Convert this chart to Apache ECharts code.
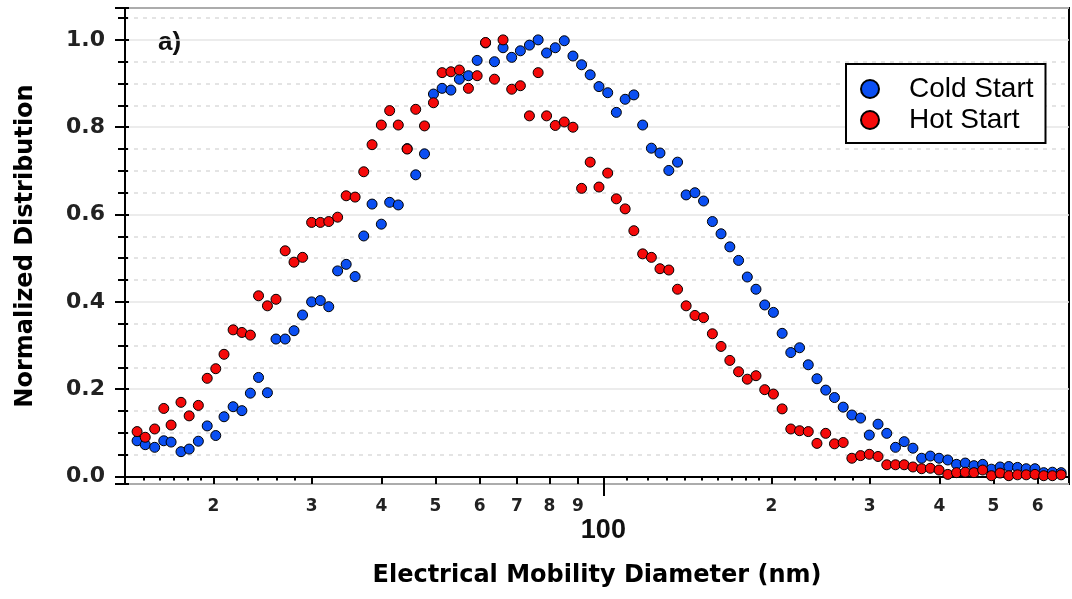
<!DOCTYPE html>
<html>
<head>
<meta charset="utf-8">
<script src="https://cdn.jsdelivr.net/npm/echarts@6/dist/echarts.min.js"></script>
<style>
	html, body { margin: 0; padding: 0; background: #fff; }
	#chart { width: 1072px; height: 599px; }
</style>
</head>
<body>
<div id="chart"></div>
<script>
// SMPS bin mid-points (nm)
const diameters = [
	14.6, 15.1, 15.7, 16.3, 16.8, 17.5, 18.1, 18.8, 19.5, 20.2,
	20.9, 21.7, 22.5, 23.3, 24.1, 25.0, 25.9, 26.9, 27.9, 28.9,
	30.0, 31.1, 32.2, 33.4, 34.6, 35.9, 37.2, 38.5, 40.0, 41.4,
	42.9, 44.5, 46.1, 47.8, 49.6, 51.4, 53.3, 55.2, 57.3, 59.4,
	61.5, 63.8, 66.1, 68.5, 71.0, 73.7, 76.4, 79.1, 82.0, 85.1,
	88.2, 91.4, 94.7, 98.2, 101.8, 105.5, 109.4, 113.4, 117.6, 121.9,
	126.3, 131.0, 135.8, 140.7, 145.9, 151.2, 156.8, 162.5, 168.5, 174.7,
	181.1, 187.7, 194.6, 201.7, 209.1, 216.7, 224.7, 232.9, 241.4, 250.3,
	259.5, 269.0, 278.8, 289.0, 299.6, 310.6, 322.0, 333.8, 346.0, 358.7,
	371.8, 385.4, 399.5, 414.2, 429.4, 445.1, 461.4, 478.3, 495.8, 514.0,
	532.8, 552.3, 572.5, 593.5, 615.3, 637.8, 661.2
];
const coldStart = [
	0.082, 0.073, 0.067, 0.082, 0.079, 0.057, 0.063, 0.081, 0.116, 0.094,
	0.137, 0.160, 0.151, 0.191, 0.227, 0.192, 0.315, 0.315, 0.334, 0.370,
	0.400, 0.403, 0.389, 0.471, 0.486, 0.458, 0.551, 0.624, 0.578, 0.628,
	0.622, 0.751, 0.691, 0.739, 0.876, 0.889, 0.885, 0.910, 0.918, 0.953,
	0.993, 0.950, 0.982, 0.960, 0.975, 0.988, 1.000, 0.970, 0.982, 0.998,
	0.963, 0.943, 0.920, 0.893, 0.879, 0.834, 0.864, 0.874, 0.805, 0.752,
	0.741, 0.701, 0.720, 0.645, 0.650, 0.631, 0.584, 0.556, 0.526, 0.495,
	0.457, 0.429, 0.393, 0.376, 0.328, 0.284, 0.295, 0.256, 0.224, 0.198,
	0.181, 0.159, 0.141, 0.134, 0.095, 0.120, 0.099, 0.067, 0.080, 0.065,
	0.042, 0.047, 0.042, 0.038, 0.028, 0.031, 0.025, 0.028, 0.017, 0.022,
	0.023, 0.021, 0.018, 0.018, 0.009, 0.010, 0.009
];
const hotStart = [
	0.103, 0.090, 0.109, 0.156, 0.118, 0.170, 0.139, 0.163, 0.225, 0.247,
	0.280, 0.336, 0.330, 0.324, 0.414, 0.391, 0.406, 0.517, 0.491, 0.502,
	0.582, 0.582, 0.584, 0.594, 0.643, 0.640, 0.698, 0.760, 0.805, 0.838,
	0.805, 0.750, 0.841, 0.803, 0.856, 0.925, 0.927, 0.931, 0.889, 0.918,
	0.994, 0.910, 1.000, 0.887, 0.895, 0.826, 0.925, 0.826, 0.804, 0.812,
	0.800, 0.660, 0.720, 0.663, 0.695, 0.636, 0.613, 0.563, 0.510, 0.502,
	0.476, 0.473, 0.429, 0.391, 0.369, 0.364, 0.327, 0.298, 0.266, 0.240,
	0.223, 0.231, 0.199, 0.189, 0.155, 0.109, 0.105, 0.103, 0.076, 0.099,
	0.075, 0.078, 0.042, 0.048, 0.051, 0.046, 0.027, 0.027, 0.027, 0.022,
	0.018, 0.019, 0.015, 0.005, 0.009, 0.010, 0.009, 0.015, 0.002, 0.008,
	0.002, 0.004, 0.004, 0.005, 0.002, 0.002, 0.004
];
// x tick positions (nm)
const labeledTicks = [20, 30, 40, 50, 60, 70, 80, 90, 100, 200, 300, 400, 500, 600];
const minorTicks = [15, 16, 17, 18, 19, 22, 24, 26, 28, 110, 120, 130, 140, 150, 160, 170, 180, 190, 220, 240, 260, 280];
const decadeTicks = [100];

const xMin = Math.log10(13.89);
const xMax = Math.log10(683);
const log = (arr) => arr.map((v) => Math.log10(v));

const boldFont = 'DejaVu Sans';

// one log-x axis drawn as log10 values; extra axes only carry tick marks
const tickAxis = (values, length, inside) => ({
	type: 'value',
	position: 'bottom',
	min: xMin,
	max: xMax,
	axisLine: { show: false },
	axisLabel: { show: false },
	splitLine: { show: false },
	axisTick: {
		show: true,
		inside: inside,
		length: length,
		customValues: log(values),
		lineStyle: { color: '#000', width: 2 },
	},
});

const myChart = echarts.init(document.getElementById('chart'));
const option = {
	animation: false,
	backgroundColor: '#fff',
	grid: {
		left: 125,
		right: 3,
		top: 8,
		bottom: 115,
		show: true,
		borderColor: '#000',
		borderWidth: 2,
	},
	graphic: [
		{
			type: 'text',
			left: 158,
			top: 30,
			style: { text: 'a)', font: 'bold 26px "Liberation Sans"', fill: '#111' },
		},
	],
	legend: {
		left: 846,
		top: 64,
		orient: 'vertical',
		backgroundColor: '#fff',
		borderColor: '#000',
		borderWidth: 2,
		borderRadius: 0,
		padding: [11, 12, 9, 14],
		itemGap: 3,
		itemWidth: 48,
		itemHeight: 18,
		icon: 'circle',
		textStyle: {
			fontFamily: 'Liberation Sans',
			fontSize: 28,
			lineHeight: 28,
			color: '#000',
			padding: [0, 0, 0, 10],
		},
		data: ['Cold Start', 'Hot Start'],
	},
	xAxis: [
		{
			type: 'value',
			position: 'bottom',
			min: xMin,
			max: xMax,
			name: 'Electrical Mobility Diameter (nm)',
			nameLocation: 'middle',
			nameGap: 80,
			nameTextStyle: { fontFamily: boldFont, fontWeight: 'bold', fontSize: 24, color: '#000' },
			axisLine: { lineStyle: { color: '#000', width: 2 } },
			axisTick: {
				length: 6,
				customValues: log(labeledTicks),
				lineStyle: { color: '#000', width: 2 },
			},
			axisLabel: {
				margin: 14,
				customValues: log(labeledTicks),
				formatter: function (v) {
					const n = Math.round(Math.pow(10, v));
					if (n === 100) return '{big|100}';
					return '{s|' + String(n).charAt(0) + '}';
				},
				rich: {
					s: { fontFamily: boldFont, fontWeight: 'bold', fontSize: 17, color: '#222' },
					big: { fontFamily: 'Liberation Sans', fontWeight: 'bold', fontSize: 27, color: '#111', padding: [19, 0, 0, 0] },
				},
			},
			splitLine: { show: false },
		},
		tickAxis(minorTicks, 4, false),
		tickAxis(decadeTicks, 12, false),
		tickAxis(labeledTicks, 4, true),
	],
	yAxis: [
		{
			type: 'value',
			position: 'left',
			min: -0.017,
			max: 1.073,
			splitNumber: 5,
			name: 'Normalized Distribution',
			nameLocation: 'middle',
			nameGap: 87,
			nameTextStyle: { fontFamily: boldFont, fontWeight: 'bold', fontSize: 24, color: '#000' },
			axisLine: { show: true, lineStyle: { color: '#000', width: 2 } },
			axisTick: { show: true, length: 10, lineStyle: { color: '#000', width: 2 } },
			minorTick: { show: true, splitNumber: 4, length: 7, lineStyle: { color: '#000', width: 2 } },
			axisLabel: {
				margin: 20,
				showMinLabel: false,
				showMaxLabel: false,
				fontFamily: boldFont,
				fontWeight: 'bold',
				fontSize: 22,
				color: '#222',
				formatter: (v) => v.toFixed(1),
			},
			splitLine: { show: true, lineStyle: { color: '#e6e6e6', width: 1.5 } },
			minorSplitLine: { show: true, lineStyle: { color: '#dcdcdc', width: 1.5, type: [4, 5] } },
		},
		{
			type: 'value',
			position: 'left',
			min: -0.017,
			max: 1.073,
			splitNumber: 5,
			axisLine: { show: false },
			axisLabel: { show: false },
			splitLine: { show: false },
			axisTick: { show: true, inside: true, length: 4, lineStyle: { color: '#000', width: 2 } },
			minorTick: { show: true, splitNumber: 4, length: 3, lineStyle: { color: '#000', width: 2 } },
		},
	],
	series: [
		{
			name: 'Cold Start',
			type: 'scatter',
			symbol: 'circle',
			symbolSize: 10,
			itemStyle: { color: '#0b4ff2', borderColor: '#000', borderWidth: 1, opacity: 1 },
			data: diameters.map((d, i) => [Math.log10(d), coldStart[i]]),
		},
		{
			name: 'Hot Start',
			type: 'scatter',
			symbol: 'circle',
			symbolSize: 10,
			itemStyle: { color: '#f50a0a', borderColor: '#000', borderWidth: 1, opacity: 1 },
			data: diameters.map((d, i) => [Math.log10(d), hotStart[i]]),
		},
	],
};
myChart.setOption(option);
</script>
</body>
</html>
